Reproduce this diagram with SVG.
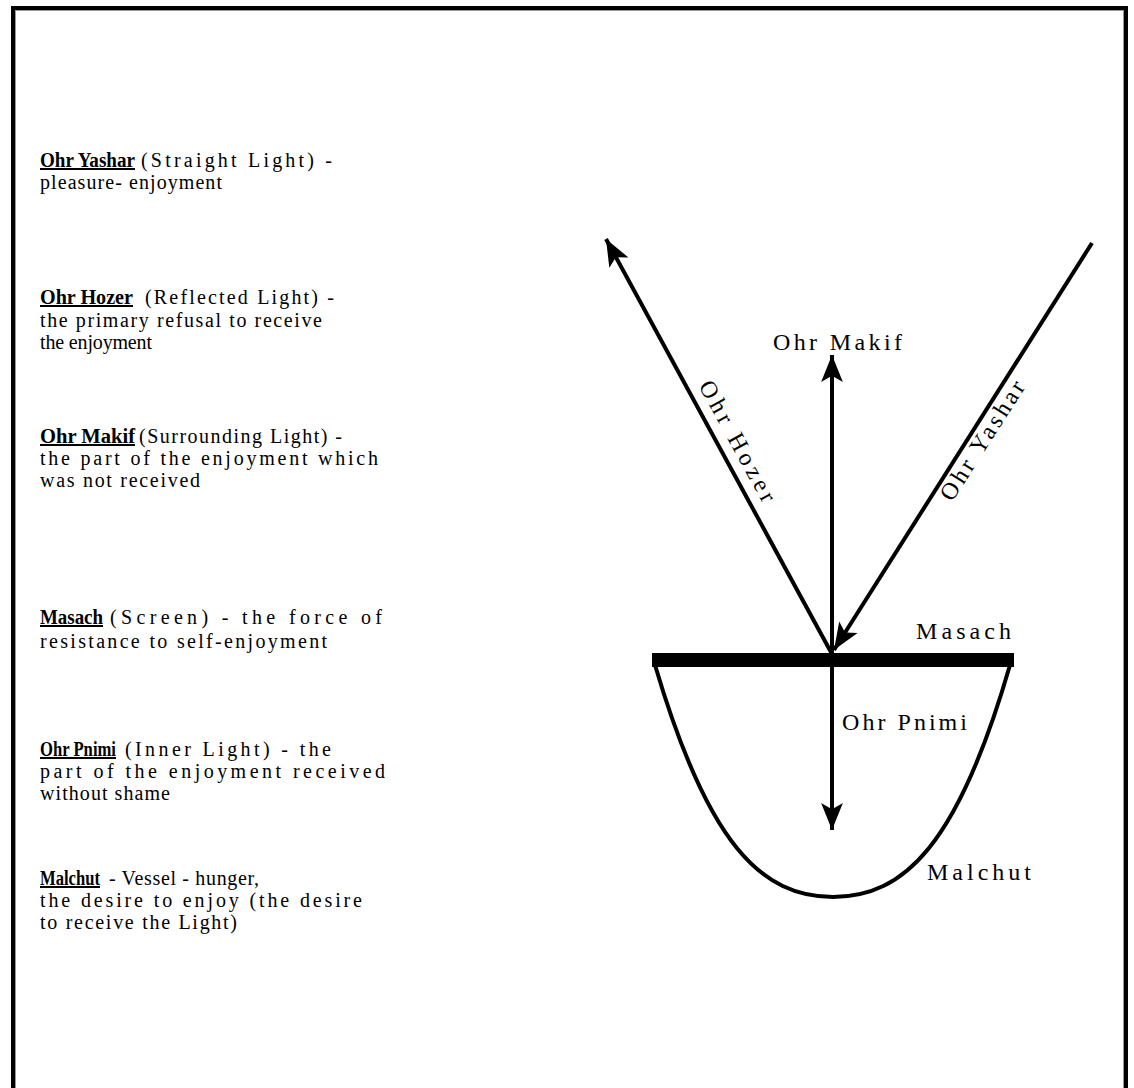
<svg xmlns="http://www.w3.org/2000/svg" width="1134" height="1088" viewBox="0 0 1134 1088">
<style>
  .t { font-family: "Liberation Serif", "Times New Roman", serif; font-size: 20px; fill: #000; }
  .b { font-weight: bold; text-decoration: underline; }
  .lbl { font-family: "Liberation Serif", "Times New Roman", serif; font-size: 24px; fill: #000; }
  .ln { stroke: #000; stroke-width: 4; fill: none; }
</style>
<defs>
  <marker id="ah" markerUnits="userSpaceOnUse" markerWidth="30" markerHeight="26" viewBox="-27 -12 29 24" refX="0" refY="0" orient="auto">
    <path d="M0,0 L-26,-10.5 L-20,0 L-26,10.5 Z" fill="#000"/>
  </marker>
</defs>
<rect width="1134" height="1088" fill="#fff"/>
<g id="frame">
  <rect x="13" y="8" width="1113" height="1110" fill="none" stroke="#000" stroke-width="4"/>
  <rect x="15.5" y="10.5" width="1108" height="1110" fill="none" stroke="#999" stroke-width="1"/>
</g>

<g id="legend">
  <g id="legend-ohr-yashar">
    <text class="t b" x="40" y="167" textLength="95" lengthAdjust="spacingAndGlyphs">Ohr Yashar</text>
    <text class="t" x="141" y="167" textLength="191" lengthAdjust="spacing">(Straight Light) -</text>
    <text class="t" x="40" y="189" textLength="182" lengthAdjust="spacing">pleasure- enjoyment</text>
  </g>
  <g id="legend-ohr-hozer">
    <text class="t b" x="40" y="304" textLength="93" lengthAdjust="spacingAndGlyphs">Ohr Hozer</text>
    <text class="t" x="145" y="304" textLength="189" lengthAdjust="spacing">(Reflected Light) -</text>
    <text class="t" x="40" y="327" textLength="282" lengthAdjust="spacing">the primary refusal to receive</text>
    <text class="t" x="40" y="349" textLength="112" lengthAdjust="spacing">the enjoyment</text>
  </g>
  <g id="legend-ohr-makif">
    <text class="t b" x="40" y="443" textLength="95" lengthAdjust="spacingAndGlyphs">Ohr Makif</text>
    <text class="t" x="139" y="443" textLength="203" lengthAdjust="spacing">(Surrounding Light) -</text>
    <text class="t" x="40" y="465" textLength="338" lengthAdjust="spacing">the part of the enjoyment which</text>
    <text class="t" x="40" y="487" textLength="160" lengthAdjust="spacing">was not received</text>
  </g>
  <g id="legend-masach">
    <text class="t b" x="40" y="624" textLength="63" lengthAdjust="spacingAndGlyphs">Masach</text>
    <text class="t" x="110" y="624" textLength="272" lengthAdjust="spacing">(Screen) - the force of</text>
    <text class="t" x="40" y="648" textLength="287" lengthAdjust="spacing">resistance to self-enjoyment</text>
  </g>
  <g id="legend-ohr-pnimi">
    <text class="t b" x="40" y="756" textLength="76" lengthAdjust="spacingAndGlyphs">Ohr Pnimi</text>
    <text class="t" x="125" y="756" textLength="206" lengthAdjust="spacing">(Inner Light) - the</text>
    <text class="t" x="40" y="778" textLength="345" lengthAdjust="spacing">part of the enjoyment received</text>
    <text class="t" x="40" y="800" textLength="130" lengthAdjust="spacing">without shame</text>
  </g>
  <g id="legend-malchut">
    <text class="t b" x="40" y="885" textLength="60" lengthAdjust="spacingAndGlyphs">Malchut</text>
    <text class="t" x="109" y="885" textLength="150" lengthAdjust="spacing">- Vessel - hunger,</text>
    <text class="t" x="40" y="907" textLength="322" lengthAdjust="spacing">the desire to enjoy (the desire</text>
    <text class="t" x="40" y="929" textLength="197" lengthAdjust="spacing">to receive the Light)</text>
  </g>
</g>

<g id="masach">
  <rect x="652" y="653" width="362" height="14" fill="#000"/>
  <text class="lbl" x="916" y="639" textLength="95" lengthAdjust="spacing">Masach</text>
</g>
<g id="malchut">
  <path class="ln" d="M655,665 C708,845 762,897 833,897 C904,897 958,845 1010,665"/>
  <text class="lbl" x="927" y="880" textLength="104" lengthAdjust="spacing">Malchut</text>
</g>
<g id="ohr-makif">
  <text class="lbl" x="773" y="350" textLength="129" lengthAdjust="spacing">Ohr Makif</text>
</g>
<g id="ohr-pnimi">
  <text class="lbl" x="842" y="730" textLength="125" lengthAdjust="spacing">Ohr Pnimi</text>
</g>
<g id="ohr-hozer">
  <text class="lbl" transform="translate(736,442) rotate(61.3)" x="0" y="6" text-anchor="middle" textLength="135" lengthAdjust="spacing">Ohr Hozer</text>
</g>
<g id="ohr-yashar">
  <text class="lbl" transform="translate(983,441) rotate(-57.5)" x="0" y="7" text-anchor="middle" textLength="137" lengthAdjust="spacing">Ohr Yashar</text>
</g>

<g id="connectors">
  <line class="ln" x1="832" y1="654" x2="606" y2="239" marker-end="url(#ah)"/>
  <line class="ln" x1="832" y1="654" x2="832" y2="355" marker-end="url(#ah)"/>
  <line class="ln" x1="1092" y1="243" x2="834" y2="650" marker-end="url(#ah)"/>
  <line class="ln" x1="832" y1="666" x2="832" y2="830" marker-end="url(#ah)"/>
</g>
</svg>
